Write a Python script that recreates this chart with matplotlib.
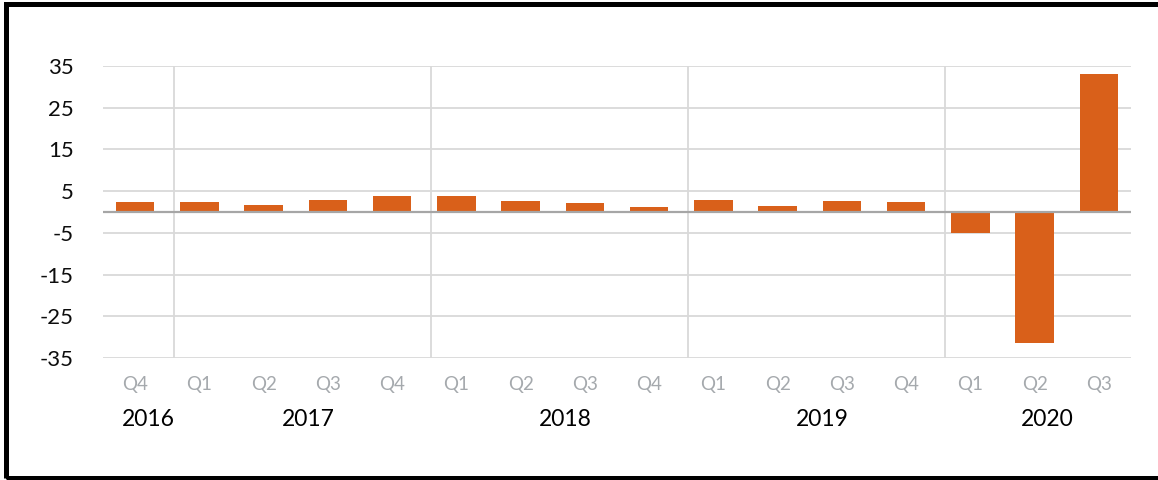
import numpy as np
import matplotlib.pyplot as plt
from matplotlib.patches import Rectangle

plt.rcParams['font.family'] = ['Lato', 'DejaVu Sans']

quarters = ['Q4', 'Q1', 'Q2', 'Q3', 'Q4', 'Q1', 'Q2', 'Q3', 'Q4',
            'Q1', 'Q2', 'Q3', 'Q4', 'Q1', 'Q2', 'Q3']
growth = [2.5, 2.3, 1.7, 2.9, 3.9, 3.8, 2.7, 2.1, 1.3,
          2.9, 1.5, 2.6, 2.4, -5.0, -31.4, 33.1]
years = ['2016', '2017', '2018', '2019', '2020']
year_sizes = [1, 4, 4, 4, 3]

W, H = 1158, 480
fig = plt.figure(figsize=(W / 100, H / 100), dpi=100)
ax = fig.add_axes([103 / W, 1 - 358 / H, 1028 / W, 292 / H])

x = np.arange(len(growth))
ax.bar(x, growth, width=0.6, color='#d9601a', zorder=3)

ax.set_xlim(-0.5, len(growth) - 0.5)
ax.set_ylim(-35, 35)
yticks = np.arange(-35, 36, 10)
ax.set_yticks(yticks)
ax.set_yticklabels([str(v) for v in yticks], fontsize=16, color='#0d0d0d')
for v in yticks:
    ax.axhline(v, color='#d9d9d9', lw=1.3, zorder=1)
ax.axhline(0, color='#a6a6a6', lw=1.6, zorder=4)

ax.set_xticks(x)
ax.set_xticklabels(quarters, fontsize=13.5, color='#a5a9ad')
ax.tick_params(axis='x', length=0, pad=13)
ax.tick_params(axis='y', length=0, pad=21)
for s in ax.spines.values():
    s.set_visible(False)

# year group separators and labels
start = 0
for yr, n in zip(years, year_sizes):
    if start > 0:
        ax.axvline(start - 0.4, color='#d9d9d9', lw=1.3, zorder=1)
    mid = start + (n - 1) / 2 + 0.2
    ax.annotate(yr, xy=(mid, 0), xycoords=('data', 'axes fraction'),
                xytext=(0, -44), textcoords='offset points',
                ha='center', va='center', fontsize=16.5, color='#000000')
    start += n

# black frame around the figure
fig.add_artist(Rectangle((5.5 / W, 2.5 / H), 1.02 - 5.5 / W, 1 - 6.5 / H,
                         transform=fig.transFigure, fill=False,
                         edgecolor='black', lw=3.6))

fig.savefig('out.png', dpi=100)
